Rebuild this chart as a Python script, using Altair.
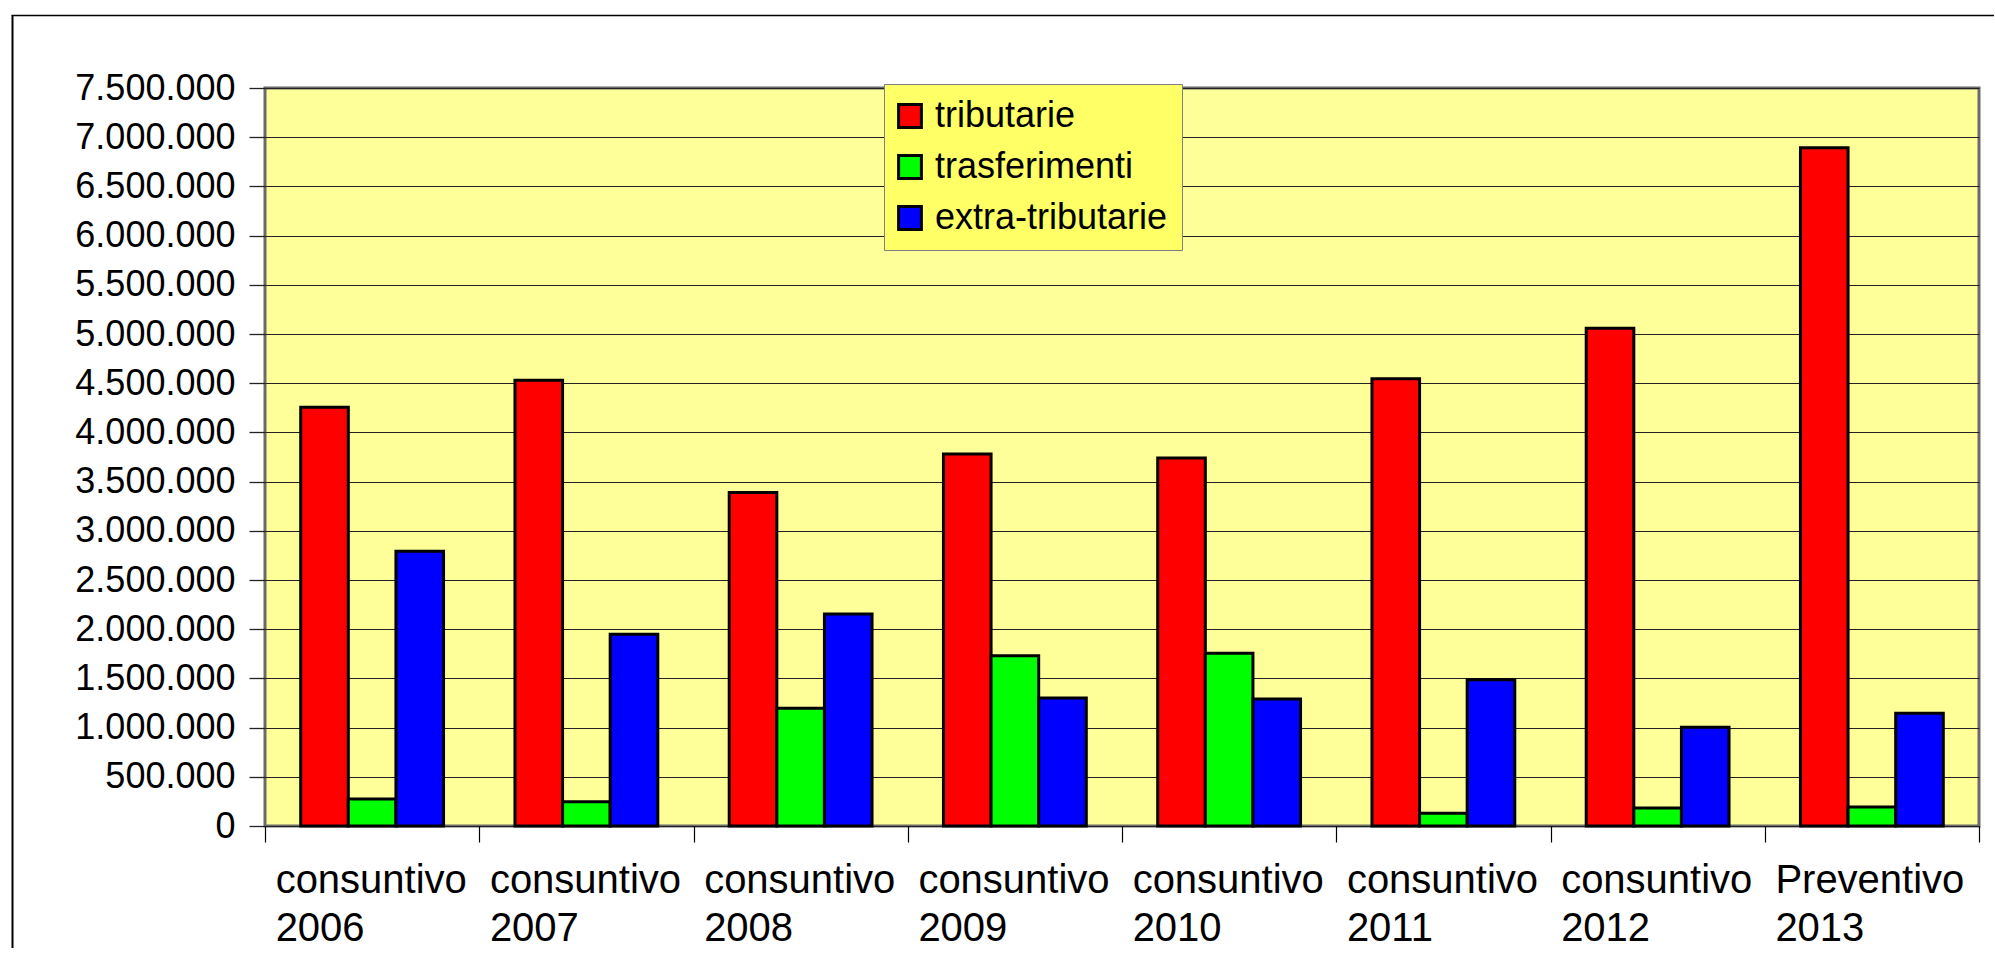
import altair as alt
import pandas as pd

categories = ["consuntivo 2006", "consuntivo 2007", "consuntivo 2008", "consuntivo 2009",
              "consuntivo 2010", "consuntivo 2011", "consuntivo 2012", "Preventivo 2013"]
series_names = ["tributarie", "trasferimenti", "extra-tributarie"]
series_colors = ["#FF0000", "#00FF00", "#0000FF"]
tributarie = [4255000, 4530000, 3390000, 3780000, 3740000, 4545000, 5058000, 6893000]
trasferimenti = [274000, 247000, 1196000, 1731000, 1755000, 129000, 183000, 193000]
extra_tributarie = [2792000, 1948000, 2154000, 1301000, 1291000, 1487000, 1003000, 1145000]
y_ticks = list(range(0, 7500001, 500000))

rows = []
for s, vals in zip(series_names, [tributarie, trasferimenti, extra_tributarie]):
    for c, v in zip(categories, vals):
        rows.append({"categoria": c, "serie": s, "valore": v})
df = pd.DataFrame(rows)

W, H = 1714, 738
BOTTOM = 122
RIGHT = 16
FONT = "Liberation Sans"

bars = alt.Chart(df).mark_bar(stroke="black", strokeWidth=3).encode(
    x=alt.X("categoria:N", sort=categories, title=None,
            scale=alt.Scale(paddingInner=0, paddingOuter=0),
            axis=alt.Axis(labelExpr="split(datum.label, ' ')", labelAngle=0,
                          labelAlign="left", labelOffset=-97, labelBaseline="top",
                          labelFontSize=40, labelFont=FONT, labelColor="black",
                          labelLineHeight=48, labelPadding=18, labelOverlap=False,
                          labelLimit=0, labelBound=False, labelFlush=False,
                          tickBand="extent", tickSize=16, tickColor="black",
                          tickWidth=1.2, domain=False, grid=False)),
    xOffset=alt.XOffset("serie:N", sort=series_names,
                        scale=alt.Scale(paddingInner=0, paddingOuter=0.75)),
    y=alt.Y("valore:Q", title=None,
            scale=alt.Scale(domain=[0, 7500000], nice=False, zero=True),
            axis=alt.Axis(values=y_ticks,
                          labelExpr="replace(format(datum.value, ',d'), /,/g, '.')",
                          labelFontSize=36, labelFont=FONT, labelColor="black",
                          labelPadding=14, tickSize=16, tickColor="#222222",
                          tickWidth=1.3, domain=False, grid=True,
                          gridColor="#222222", gridWidth=1.2, gridOpacity=1,
                          labelFlush=False, labelLimit=0)),
    color=alt.Color("serie:N", sort=series_names,
                    scale=alt.Scale(domain=series_names, range=series_colors),
                    legend=alt.Legend(title=None, orient="none", legendX=619, legendY=-4,
                                      fillColor="#FFFF66", strokeColor="#808080",
                                      padding=14, rowPadding=15, symbolType="square",
                                      symbolSize=520, symbolStrokeWidth=3,
                                      symbolStrokeColor="black", symbolOffset=-6,
                                      labelFontSize=36, labelFont=FONT,
                                      labelColor="black", labelOffset=7,
                                      labelLimit=0)),
)

frame_data = alt.Data(values=[{"k": 1}])
frame_left = alt.Chart(frame_data).mark_rule(color="black", strokeWidth=2).encode(
    x=alt.value(-252.5), y=alt.value(-72.5), y2=alt.value(H + BOTTOM)
)
frame_top = alt.Chart(frame_data).mark_rule(color="black", strokeWidth=1.5).encode(
    x=alt.value(-253.5), x2=alt.value(W + RIGHT - 1), y=alt.value(-72.5)
)

chart = alt.layer(bars, frame_left, frame_top).properties(
    width=W, height=H,
    padding={"left": 265, "top": 88, "right": RIGHT, "bottom": BOTTOM},
    autosize=alt.AutoSizeParams(type="none"),
    background="white",
).configure_view(fill="#FFFF99", stroke="#6a6a6a", strokeWidth=3)

chart.save("out.html", embed_options={"renderer": "svg", "actions": False})
